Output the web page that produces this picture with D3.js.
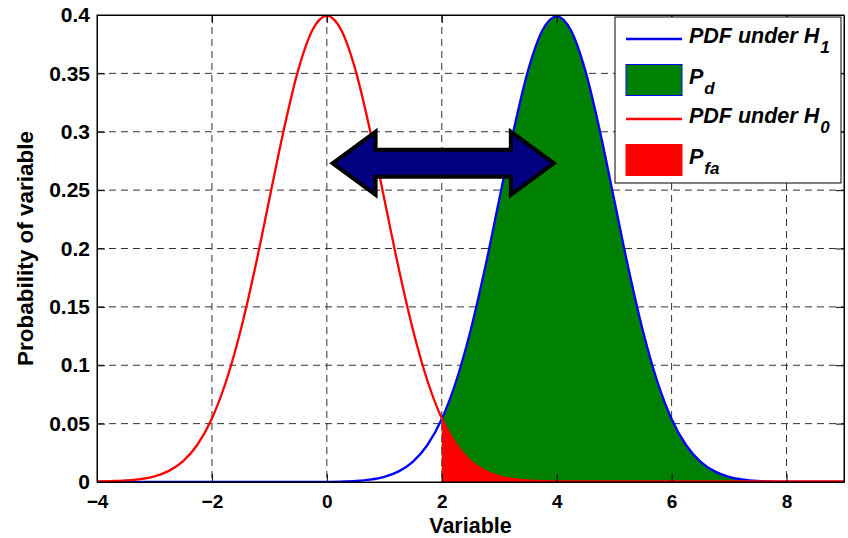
<!DOCTYPE html>
<html>
<head>
<meta charset="utf-8">
<script src="https://cdn.jsdelivr.net/npm/d3@7"></script>
<style>
  body { margin: 0; background: #fff; }
  text { font-family: "Liberation Sans", Arial, sans-serif; font-weight: bold; }
  .axis path, .axis line { stroke: #000; }
</style>
</head>
<body>
<div id="chart"></div>
<script>
// sample positions and the two curves
var xValues = [-4, -3.75, -3.5, -3.25, -3, -2.75, -2.5, -2.25, -2, -1.75, -1.5, -1.25, -1, -0.75, -0.5, -0.25,
  0, 0.25, 0.5, 0.75, 1, 1.25, 1.5, 1.75, 2, 2.25, 2.5, 2.75, 3, 3.25, 3.5, 3.75,
  4, 4.25, 4.5, 4.75, 5, 5.25, 5.5, 5.75, 6, 6.25, 6.5, 6.75, 7, 7.25, 7.5, 7.75,
  8, 8.25, 8.5, 8.75, 9];
var pdfH0 = [0.0001, 0.0004, 0.0009, 0.0020, 0.0044, 0.0091, 0.0175, 0.0317, 0.0540, 0.0863, 0.1295, 0.1826, 0.2420, 0.3011, 0.3521, 0.3867,
  0.3989, 0.3867, 0.3521, 0.3011, 0.2420, 0.1826, 0.1295, 0.0863, 0.0540, 0.0317, 0.0175, 0.0091, 0.0044, 0.0020, 0.0009, 0.0004,
  0.0001, 0, 0, 0, 0, 0, 0, 0, 0, 0, 0, 0, 0, 0, 0, 0,
  0, 0, 0, 0, 0];
var pdfH1 = [0, 0, 0, 0, 0, 0, 0, 0, 0, 0, 0, 0, 0, 0, 0, 0,
  0.0001, 0.0004, 0.0009, 0.0020, 0.0044, 0.0091, 0.0175, 0.0317, 0.0540, 0.0863, 0.1295, 0.1826, 0.2420, 0.3011, 0.3521, 0.3867,
  0.3989, 0.3867, 0.3521, 0.3011, 0.2420, 0.1826, 0.1295, 0.0863, 0.0540, 0.0317, 0.0175, 0.0091, 0.0044, 0.0020, 0.0009, 0.0004,
  0.0001, 0, 0, 0, 0];
var threshold = 2;

var xTicks = [-4, -2, 0, 2, 4, 6, 8];
var yTicks = [0, 0.05, 0.1, 0.15, 0.2, 0.25, 0.3, 0.35, 0.4];

// double arrow between the two means (data units)
var arrowX = [0.1, 3.95];
var arrowY = 0.273;

var legendItems = [
  {type: "line", color: "#0000ff", label: "PDF under H", sub: "1"},
  {type: "box", color: "#008000", edge: "#0000ff", label: "P", sub: "d"},
  {type: "line", color: "#ff0000", label: "PDF under H", sub: "0"},
  {type: "box", color: "#ff0000", edge: "#ff0000", label: "P", sub: "fa"}
];

var W = 848, H = 538;
var margin = {top: 15, right: 4, bottom: 56, left: 97};
var width = W - margin.left - margin.right,
    height = H - margin.top - margin.bottom;

var svg = d3.select("#chart").append("svg")
  .attr("width", W)
  .attr("height", H);

var x = d3.scaleLinear().domain([-4, 9]).range([0, width]);
var y = d3.scaleLinear().domain([0, 0.4]).range([height, 0]);

var g = svg.append("g")
  .attr("transform", "translate(" + margin.left + "," + margin.top + ")");

svg.append("defs").append("clipPath").attr("id", "clip")
  .append("rect").attr("width", width).attr("height", height);

// grid
g.append("g").selectAll("line")
  .data(xTicks.slice(1))
  .enter().append("line")
  .attr("x1", function(d) { return x(d); })
  .attr("x2", function(d) { return x(d); })
  .attr("y1", 0).attr("y2", height)
  .attr("stroke", "#333")
  .attr("stroke-dasharray", "7,5");

g.append("g").selectAll("line")
  .data(yTicks.slice(1, -1))
  .enter().append("line")
  .attr("y1", function(d) { return y(d); })
  .attr("y2", function(d) { return y(d); })
  .attr("x1", 0).attr("x2", width)
  .attr("stroke", "#333")
  .attr("stroke-dasharray", "7,5");

var pts = xValues.map(function(d, i) { return {x: d, h0: pdfH0[i], h1: pdfH1[i]}; });
var tail = pts.filter(function(d) { return d.x >= threshold; });

var plot = g.append("g").attr("clip-path", "url(#clip)");

var areaH1 = d3.area()
  .x(function(d) { return x(d.x); })
  .y0(height)
  .y1(function(d) { return y(d.h1); })
  .curve(d3.curveMonotoneX);

var areaH0 = d3.area()
  .x(function(d) { return x(d.x); })
  .y0(height)
  .y1(function(d) { return y(d.h0); })
  .curve(d3.curveMonotoneX);

plot.append("path")
  .datum(tail)
  .attr("d", areaH1)
  .attr("fill", "#008000");

plot.append("path")
  .datum(tail)
  .attr("d", areaH0)
  .attr("fill", "#ff0000");

var lineH1 = d3.line()
  .x(function(d) { return x(d.x); })
  .y(function(d) { return y(d.h1); })
  .curve(d3.curveMonotoneX);

var lineH0 = d3.line()
  .x(function(d) { return x(d.x); })
  .y(function(d) { return y(d.h0) - 0.5; })
  .curve(d3.curveMonotoneX);

plot.append("path")
  .datum(pts)
  .attr("d", lineH1)
  .attr("fill", "none")
  .attr("stroke", "#0000ff")
  .attr("stroke-width", 2.3);

plot.append("path")
  .datum(pts)
  .attr("d", lineH0)
  .attr("fill", "none")
  .attr("stroke", "#ff0000")
  .attr("stroke-width", 2.3);

// axes, ticks pointing in
var tickLen = 8;
g.append("g")
  .attr("class", "axis")
  .attr("transform", "translate(0," + height + ")")
  .call(d3.axisBottom(x).tickValues(xTicks).tickSizeInner(-tickLen).tickSizeOuter(0).tickPadding(13).tickFormat(d3.format("d")))
  .call(function(s) { s.selectAll("text").attr("fill", "#000").style("font-size", "19px"); });

g.append("g")
  .attr("class", "axis")
  .call(d3.axisLeft(y).tickValues(yTicks).tickSizeInner(-tickLen).tickSizeOuter(0).tickPadding(7).tickFormat(function(d) { return d3.format("")(+d.toFixed(2)); }))
  .call(function(s) { s.selectAll("text").attr("fill", "#000").style("font-size", "21px"); });

g.append("g")
  .attr("class", "axis")
  .call(d3.axisTop(x).tickValues(xTicks).tickSizeInner(-tickLen).tickSizeOuter(0).tickFormat(""));

g.append("g")
  .attr("class", "axis")
  .attr("transform", "translate(" + width + ",0)")
  .call(d3.axisRight(y).tickValues(yTicks).tickSizeInner(-tickLen).tickSizeOuter(0).tickFormat(""));

g.append("rect")
  .attr("width", width).attr("height", height)
  .attr("fill", "none").attr("stroke", "#000");

// axis titles
svg.append("text")
  .attr("x", margin.left + width / 2)
  .attr("y", 533)
  .attr("text-anchor", "middle")
  .style("font-size", "21.5px")
  .text("Variable");

svg.append("text")
  .attr("transform", "translate(33," + (margin.top + height / 2) + ") rotate(-90)")
  .attr("text-anchor", "middle")
  .style("font-size", "22.5px")
  .text("Probability of variable");

// arrow
var ax0 = x(arrowX[0]), ax1 = x(arrowX[1]), ay = y(arrowY);
var shaft = 13.5, head = 31.5, headLen = 43;
var arrowPts = [
  [ax0, ay],
  [ax0 + headLen, ay - head],
  [ax0 + headLen, ay - shaft],
  [ax1 - headLen, ay - shaft],
  [ax1 - headLen, ay - head],
  [ax1, ay],
  [ax1 - headLen, ay + head],
  [ax1 - headLen, ay + shaft],
  [ax0 + headLen, ay + shaft],
  [ax0 + headLen, ay + head]
];
g.append("path")
  .attr("d", "M" + arrowPts.join("L") + "Z")
  .attr("fill", "#000080")
  .attr("stroke", "#000")
  .attr("stroke-width", 4)
  .attr("stroke-linejoin", "miter");

// legend
var legend = svg.append("g").attr("transform", "translate(615,17)");
legend.append("rect")
  .attr("width", 226).attr("height", 166)
  .attr("fill", "#fff").attr("stroke", "#000");

var rowY = [22, 63, 102, 143];
var rows = legend.selectAll(".row")
  .data(legendItems)
  .enter().append("g")
  .attr("transform", function(d, i) { return "translate(0," + rowY[i] + ")"; });

rows.filter(function(d) { return d.type == "line"; })
  .append("line")
  .attr("x1", 11).attr("x2", 67)
  .attr("stroke", function(d) { return d.color; })
  .attr("stroke-width", 2.5);

rows.filter(function(d) { return d.type == "box"; })
  .append("rect")
  .attr("x", 11).attr("y", -15.5)
  .attr("width", 56).attr("height", 31)
  .attr("fill", function(d) { return d.color; })
  .attr("stroke", function(d) { return d.edge; });

var lt = rows.append("text")
  .attr("x", 74)
  .attr("y", 4)
  .style("font-size", "21.5px")
  .style("font-style", "italic");
lt.append("tspan").text(function(d) { return d.label; });
lt.append("tspan")
  .attr("dy", 10)
  .attr("dx", 1)
  .style("font-size", "17px")
  .text(function(d) { return d.sub; });
</script>
</body>
</html>
